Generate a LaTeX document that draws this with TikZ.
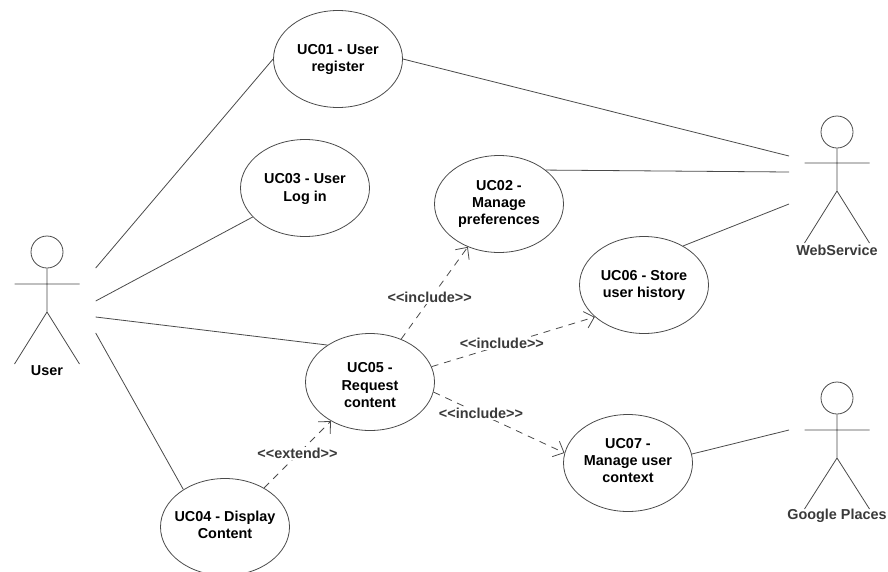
\documentclass[tikz,border=0pt]{standalone}
\usepackage{fontspec}
\setmainfont{Liberation Sans}
\usepackage{color}
\usetikzlibrary{shapes.geometric}
\usetikzlibrary{arrows.meta}
\definecolor{inkline}{HTML}{4A4A4A}
\definecolor{inktext}{HTML}{3A3A3A}
\tikzstyle{usecase} = [ellipse, draw=inkline, line width=0.8pt, text=black, minimum width=129pt,
                       minimum height=97pt, inner xsep=-6pt, inner ysep=0pt, align=center,
                       font=\fontsize{14.4}{17.4}\selectfont\bfseries]
\tikzstyle{actorhead} = [circle, draw=inkline, line width=0.8pt, minimum size=32pt, inner sep=0pt]
\tikzstyle{actorname} = [text=inktext, inner sep=0pt, font=\fontsize{14.4}{17.4}\selectfont\bfseries]
\tikzstyle{limb} = [draw=inkline, line width=0.8pt]
\tikzstyle{assoc} = [draw=inkline, line width=0.8pt]
\tikzstyle{dep} = [draw=inkline, line width=0.8pt, dash pattern=on 7pt off 6pt,
                   -{Straight Barb[length=9pt,width=17pt]}]
\tikzstyle{deplabel} = [fill=white, text=inktext, inner sep=1pt, font=\fontsize{14.4}{17.4}\selectfont\bfseries]
\begin{document}
\begin{tikzpicture}
    \path[use as bounding box,clip] (0pt,0pt) rectangle (888pt,-571pt);
    % use cases
    \node[usecase] (uc01) at (338pt,-59pt) {UC01 - User\\register\\[-15.4pt]};
    \node[usecase] (uc03) [below of=uc01,node distance=129pt,xshift=-33pt] {UC03 - User\\Log in\\[-16.4pt]};
    \node[usecase] (uc05) [below of=uc03,node distance=194pt,xshift=65pt] {\rule{0pt}{16.4pt}UC05 -\\Request\\content};
    \node[usecase] (uc04) [below of=uc05,node distance=145pt,xshift=-145pt] {UC04 - Display\\Content\\[-13.4pt]};
    \node[usecase] (uc02) [right of=uc03,node distance=194pt,yshift=-16pt] {UC02 -\\Manage\\preferences\\[-14.4pt]};
    \node[usecase] (uc06) [right of=uc05,node distance=274pt,yshift=97pt] {UC06 - Store\\user history\\[-15.4pt]};
    \node[usecase] (uc07) [right of=uc05,node distance=258pt,yshift=-81pt] {UC07 -\\Manage user\\context\\[-12.4pt]};
    % user
    \node[actorhead] (userhead) at (47pt,-252pt) {};
    \coordinate[below of=userhead,node distance=60pt] (userhip);
    \coordinate[below of=userhead,node distance=32pt,xshift=-32.5pt] (userarml);
    \coordinate[below of=userhead,node distance=32pt,xshift=32.5pt] (userarmr);
    \coordinate[below of=userhead,node distance=112pt,xshift=-32.5pt] (userfootl);
    \coordinate[below of=userhead,node distance=112pt,xshift=32.5pt] (userfootr);
    \node[actorname,text=black] (username) [below of=userhead,node distance=119pt] {User};
    \draw[limb] (userhead.south) -- (userhip) (userarml) -- (userarmr) (userfootl) -- (userhip) -- (userfootr);
    % webservice
    \node[actorhead] (webhead) at (837pt,-132pt) {};
    \coordinate[below of=webhead,node distance=59pt] (webhip);
    \coordinate[below of=webhead,node distance=31pt,xshift=-32.5pt] (webarml);
    \coordinate[below of=webhead,node distance=31pt,xshift=32.5pt] (webarmr);
    \coordinate[below of=webhead,node distance=111pt,xshift=-32.5pt] (webfootl);
    \coordinate[below of=webhead,node distance=111pt,xshift=32.5pt] (webfootr);
    \node[actorname] (webname) [below of=webhead,node distance=118pt] {WebService};
    \draw[limb] (webhead.south) -- (webhip) (webarml) -- (webarmr) (webfootl) -- (webhip) -- (webfootr);
    % google places
    \node[actorhead] (placeshead) at (837pt,-398pt) {};
    \coordinate[below of=placeshead,node distance=60pt] (placeship);
    \coordinate[below of=placeshead,node distance=32pt,xshift=-32.5pt] (placesarml);
    \coordinate[below of=placeshead,node distance=32pt,xshift=32.5pt] (placesarmr);
    \coordinate[below of=placeshead,node distance=111pt,xshift=-32.5pt] (placesfootl);
    \coordinate[below of=placeshead,node distance=111pt,xshift=32.5pt] (placesfootr);
    \node[actorname] (placesname) [below of=placeshead,node distance=118pt] {Google Places};
    \draw[limb] (placeshead.south) -- (placeship) (placesarml) -- (placesarmr) (placesfootl) -- (placeship) -- (placesfootr);
    % free ends beside the actors
    \coordinate (userend1) at (95.7pt,-268pt);
    \coordinate (userend2) at (95.7pt,-301pt);
    \coordinate (userend3) at (95.7pt,-317pt);
    \coordinate (userend4) at (95.7pt,-333pt);
    \coordinate (webend1) at (789pt,-156pt);
    \coordinate (webend2) at (789pt,-172pt);
    \coordinate (webend3) at (789pt,-204pt);
    \coordinate (placesend) at (789pt,-430pt);
    % associations
    \draw[assoc] (userend1) -- (uc01.west);
    \draw[assoc] (userend2) -- (uc03.209);
    \draw[assoc] (userend3) -- (uc05.139);
    \draw[assoc] (userend4) -- (uc04.138);
    \draw[assoc] (uc01.east) -- (webend1);
    \draw[assoc] (uc02.36) -- (webend2);
    \draw[assoc] (uc06.45) -- (webend3);
    \draw[assoc] (uc07.8) -- (placesend);
    % include and extend
    \draw[dep] (uc05.54) -- (uc02.234) node[deplabel,pos=.45,xshift=-1.5pt] (inc1) {<{}<include>{}>};
    \draw[dep] (uc05.14) -- (uc06.213) node[deplabel,pos=.43,yshift=2pt] (inc2) {<{}<include>{}>};
    \draw[dep] (uc05.-9) -- (uc07.171) node[deplabel,pos=.37,xshift=-1pt,yshift=1pt] (inc3) {<{}<include>{}>};
    \draw[dep] (uc04.45) -- (uc05.225) node[deplabel,pos=.5,yshift=1pt] (ext1) {<{}<extend>{}>};
\end{tikzpicture}
\end{document}
